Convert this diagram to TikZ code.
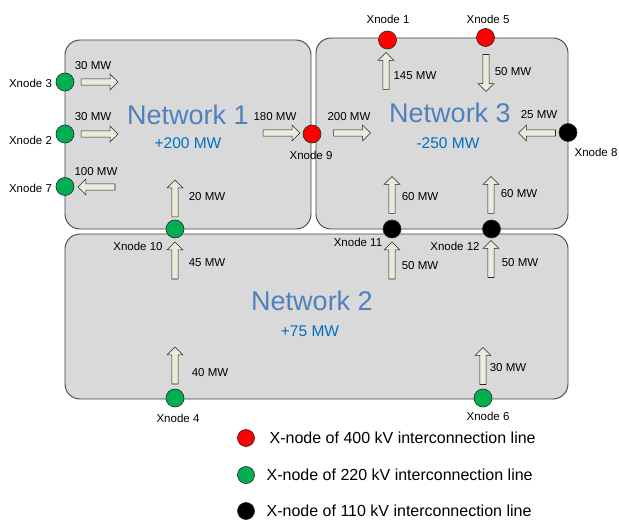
\documentclass[tikz,border=0pt]{standalone}
\usepackage{fontspec}
\setmainfont{Liberation Sans}
\usepackage{xcolor}
\usepackage{tikz}
\usetikzlibrary{shapes.arrows}
\definecolor{netblue}{HTML}{4F81BD}
\definecolor{sumblue}{HTML}{0070C0}
\definecolor{boxgray}{HTML}{D9D9D9}
\definecolor{flowfill}{HTML}{EBEBDA}
\definecolor{xgreen}{HTML}{00B050}
\definecolor{xred}{HTML}{FF0000}

\begin{document}
\begin{tikzpicture}[x=1pt, y=-1pt,
  net/.style={draw=black!75, fill=boxgray, rounded corners=15pt,
              line width=0.9pt, inner sep=0pt},
  xn/.style={circle, draw=black!85, line width=0.6pt, minimum size=18pt, inner sep=0pt},
  flow/.style={single arrow, draw=black!85, fill=flowfill, line width=0.6pt,
               inner sep=2.8pt, single arrow head extend=4.8pt, minimum height=37pt},
  title/.style={text=netblue, font=\fontsize{27}{30}\selectfont},
  total/.style={text=sumblue, font=\fontsize{15.5}{17}\selectfont},
  mw/.style={inner sep=0pt, font=\fontsize{11.5}{13}\selectfont},
  leg/.style={anchor=west, inner sep=0pt, font=\fontsize{16}{18}\selectfont}]
\useasboundingbox (0,0) rectangle (619,524);
\node[net, minimum width=246pt, minimum height=189pt] (net1) at (188,134.5) {};
\node[net, minimum width=252pt, minimum height=191pt] (net3) at (442,133.5) {};
\node[net, minimum width=503pt, minimum height=165pt] (net2) at (316.5,316.5) {};
\node[title] (t1) at (188,115) {Network 1};
\node[total] (s1) at (188,143) {+200 MW};
\node[title] (t3) at (450,113) {Network 3};
\node[total] (s3) at (448,143) {-250 MW};
\node[title] (t2) at (312,301) {Network 2};
\node[total] (s2) at (310,331) {+75 MW};
% flows
\node[flow] (f3) at (98,82) {};
\node[flow] (f2) at (98,134) {};
\node[flow, rotate=180] (f7) at (98,187) {};
\node[flow] (f9) at (280,133) {};
\node[flow, rotate=90] (f10) at (175,200) {};
\node[flow, rotate=90] (f1) at (386,72.5) {};
\node[flow, rotate=-90] (f5) at (486,71.5) {};
\node[flow] (f9b) at (350.5,133) {};
\node[flow, rotate=180] (f8) at (538.5,133) {};
\node[flow, rotate=90] (f11) at (392,196.5) {};
\node[flow, rotate=90] (f12) at (491,196.5) {};
\node[flow, rotate=90] (f10b) at (175,262) {};
\node[flow, rotate=90] (f11b) at (392,262) {};
\node[flow, rotate=90] (f12b) at (491,260.5) {};
\node[flow, rotate=90] (f4) at (175,367) {};
\node[flow, rotate=90] (f6) at (483,367.5) {};
\node[mw] (m3) at (93,66) {30 MW};
\node[mw] (m2) at (93,117) {30 MW};
\node[mw] (m7) at (96,172) {100 MW};
\node[mw] (m9) at (275,117) {180 MW};
\node[mw] (m10) at (207,197) {20 MW};
\node[mw] (m1) at (415,76) {145 MW};
\node[mw] (m5) at (513,72) {50 MW};
\node[mw] (m9b) at (349,117) {200 MW};
\node[mw] (m8) at (539,115) {25 MW};
\node[mw] (m11) at (420,197) {60 MW};
\node[mw] (m12) at (519,194) {60 MW};
\node[mw] (m10b) at (207,263) {45 MW};
\node[mw] (m11b) at (420,266) {50 MW};
\node[mw] (m12b) at (520,263) {50 MW};
\node[mw] (m4) at (210,373) {40 MW};
\node[mw] (m6) at (508,368) {30 MW};
% x-nodes
\node[xn, fill=xred] (x1) at (387.5,40) {};
\node[xn, fill=xred] (x5) at (485.5,37.5) {};
\node[xn, fill=xred] (x9) at (312,134) {};
\node[xn, fill=black] (x8) at (568,132.5) {};
\node[xn, fill=xgreen] (x3) at (65,82) {};
\node[xn, fill=xgreen] (x2) at (65,134) {};
\node[xn, fill=xgreen] (x7) at (65,186.5) {};
\node[xn, fill=xgreen] (x10) at (175,229) {};
\node[xn, fill=black] (x11) at (392,229) {};
\node[xn, fill=black] (x12) at (491.5,229) {};
\node[xn, fill=xgreen] (x4) at (175,398) {};
\node[xn, fill=xgreen] (x6) at (483,398) {};
\node[mw] (n1) at (388,19) {Xnode 1};
\node[mw] (n5) at (488,19) {Xnode 5};
\node[mw] (n9) at (311,155) {Xnode 9};
\node[mw] (n8) at (596,152) {Xnode 8};
\node[mw] (n3) at (30.5,83.5) {Xnode 3};
\node[mw] (n2) at (30.5,140.5) {Xnode 2};
\node[mw] (n7) at (30.5,188.5) {Xnode 7};
\node[mw] (n10) at (138,246) {Xnode 10};
\node[mw] (n11) at (358,242.5) {Xnode 11};
\node[mw] (n12) at (455,246) {Xnode 12};
\node[mw] (n4) at (178,418) {Xnode 4};
\node[mw] (n6) at (488,416.5) {Xnode 6};
% legend
\node[xn, fill=xred, minimum size=17pt] (k1) at (246,438) {};
\node[xn, fill=xgreen, minimum size=17pt] (k2) at (246,475) {};
\node[xn, fill=black, minimum size=17pt] (k3) at (246,511) {};
\node[leg] (e1) at (269.5,438) {X-node of 400 kV interconnection line};
\node[leg] (e2) at (266.5,475) {X-node of 220 kV interconnection line};
\node[leg] (e3) at (266.5,511) {X-node of 110 kV interconnection line};
\end{tikzpicture}
\end{document}
